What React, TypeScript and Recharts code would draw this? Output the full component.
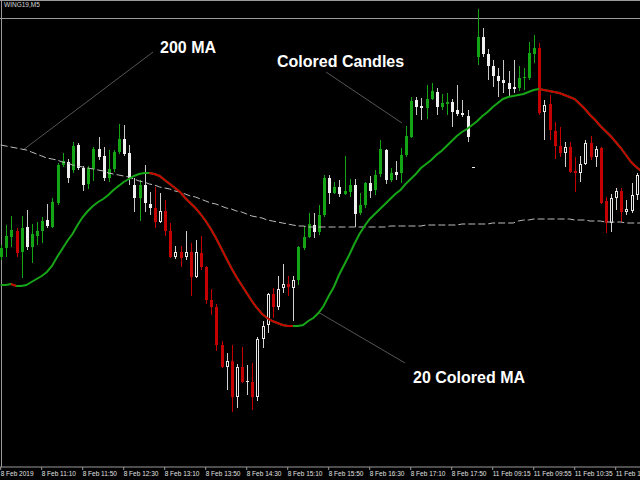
import React from "react";
import { ComposedChart, Bar, Line, XAxis, YAxis, ReferenceLine } from "recharts";

// WING19 M5 candles (no price scale shown, so levels are in chart points)
const OPEN = [
  210, 219, 230, 236, 215, 240, 220, 231, 236, 247,
  240, 264, 302, 305, 297, 322, 299, 283, 298, 318,
  311, 289, 298, 315, 328, 314, 282, 269, 282, 263,
  259, 245, 256, 236, 210, 215, 210, 215, 190, 214,
  200, 167, 160, 122, 100, 106, 70, 100, 86, 85,
  70, 128, 142, 173, 160, 179, 183, 179, 187, 219,
  230, 242, 235, 252, 289, 274, 280, 273, 275, 282,
  254, 262, 284, 277, 293, 317, 287, 295, 294, 312,
  330, 367, 361, 359, 368, 375, 360, 363, 365, 357,
  354, 351, 300, 410, 430, 413, 401, 391, 387, 384,
  380, 379, 389, 389, 413, 419, 355, 363, 336, 321,
  314, 320, 296, 294, 303, 324, 310, 319, 266, 244,
  269, 276, 255, 256, 272, 292,
];
const HIGH = [
  222, 242, 251, 239, 251, 257, 243, 245, 250, 263,
  269, 304, 314, 308, 325, 324, 301, 301, 320, 330,
  320, 317, 317, 343, 342, 322, 289, 287, 302, 275,
  280, 274, 267, 244, 221, 221, 236, 224, 227, 231,
  201, 178, 163, 126, 114, 122, 103, 120, 102, 104,
  130, 146, 174, 179, 191, 203, 191, 191, 221, 241,
  254, 254, 262, 292, 292, 285, 287, 311, 288, 288,
  274, 285, 291, 297, 327, 318, 299, 306, 319, 341,
  370, 370, 369, 382, 384, 379, 373, 374, 368, 382,
  367, 357, 300, 458, 439, 418, 407, 399, 407, 396,
  407, 401, 399, 425, 432, 424, 367, 372, 345, 340,
  325, 325, 310, 311, 327, 331, 321, 320, 270, 273,
  279, 279, 267, 284, 294, 317,
];
const LOW = [
  207, 210, 220, 210, 189, 217, 204, 222, 224, 239,
  239, 262, 300, 284, 294, 297, 276, 278, 286, 307,
  286, 285, 295, 313, 311, 282, 255, 246, 255, 252,
  239, 244, 231, 209, 208, 200, 207, 171, 189, 197,
  163, 152, 116, 99, 77, 55, 59, 84, 72, 57,
  66, 119, 134, 149, 157, 174, 171, 146, 182, 217,
  229, 229, 232, 250, 263, 273, 270, 272, 270, 240,
  252, 259, 269, 272, 290, 283, 285, 287, 284, 310,
  329, 352, 347, 348, 367, 352, 357, 352, 340, 351,
  350, 325, 299, 402, 410, 387, 380, 370, 374, 370,
  374, 376, 377, 387, 404, 352, 327, 327, 308, 310,
  300, 294, 275, 285, 302, 307, 300, 263, 234, 235,
  257, 245, 252, 254, 267, 291,
];
const CLOSE = [
  219, 231, 237, 214, 239, 220, 233, 236, 246, 241,
  265, 302, 306, 289, 321, 299, 282, 299, 318, 310,
  289, 298, 315, 328, 313, 289, 269, 282, 264, 259,
  245, 256, 236, 210, 215, 209, 215, 190, 215, 200,
  167, 160, 122, 100, 106, 70, 100, 85, 86, 70,
  128, 141, 173, 160, 178, 183, 180, 187, 220, 230,
  243, 235, 252, 289, 274, 280, 273, 276, 282, 253,
  262, 284, 276, 292, 318, 287, 294, 292, 312, 331,
  366, 360, 359, 368, 376, 360, 364, 365, 355, 353,
  352, 330, 299, 430, 413, 401, 391, 386, 384, 378,
  378, 389, 390, 414, 419, 354, 362, 337, 321, 314,
  320, 295, 294, 303, 324, 310, 318, 264, 244, 269,
  276, 255, 258, 272, 292, 314,
];
// g = bull in uptrend, w = bear in uptrend, r = bear in downtrend, h = bull in downtrend
const CANDLE_KIND =
  "gggrgwgggw" + "gggwgwwggw" + "wgggwwwgww" + "rhrrhrhrhr" +
  "rrrrhrhrhr" + "hhhrhhrhgg" + "gwggwgwggw" + "ggwggwgwgg" +
  "gwwggwggww" + "wwwgwwwwww" + "wggggrhrrr" + "hrrhhrhrrh" + "hrhhhh";

const MA20 = [
  182, 182, 183, 181, 181, 182, 185, 188, 191, 195,
  201, 210, 218, 226, 233, 242, 250, 256, 261, 265,
  268, 272, 277, 281, 285, 288, 291, 293, 294, 294,
  293, 291, 287, 283, 279, 275, 269, 264, 259, 253,
  246, 238, 229, 219, 209, 199, 190, 182, 174, 166,
  159, 153, 149, 146, 144, 142, 141, 141, 141, 142,
  146, 149, 154, 161, 171, 180, 192, 202, 212, 223,
  233, 241, 248, 253, 258, 263, 268, 273, 277, 283,
  288, 293, 299, 303, 307, 312, 316, 321, 326, 331,
  335, 338, 342, 346, 351, 355, 360, 364, 368, 370,
  371, 372, 373, 375, 377, 378, 377, 376, 375, 374,
  372, 370, 368, 363, 358, 352, 347, 341, 336, 331,
  325, 319, 312, 305, 300, 296,
];
// bar ranges where the 20 MA is drawn red
const MA20_DOWN = [[2, 3], [29, 57], [105, 125]];

const MA200 = [
  322, 321, 320, 319, 318, 317, 315, 313, 311, 309,
  308, 307, 305, 304, 302, 301, 300, 299, 298, 297,
  296, 294, 293, 292, 291, 290, 288, 286, 285, 283,
  282, 280, 279, 278, 276, 275, 273, 271, 270, 268,
  266, 264, 263, 261, 259, 258, 256, 255, 253, 251,
  250, 249, 247, 246, 245, 244, 243, 242, 241, 241,
  240, 240, 240, 240, 240, 240, 240, 240, 240, 240,
  240, 240, 240, 240, 240, 240, 241, 241, 241, 241,
  241, 241, 241, 242, 242, 242, 242, 242, 242, 242,
  243, 243, 243, 243, 243, 243, 244, 244, 244, 244,
  244, 246, 247, 247, 248, 248, 248, 248, 248, 248,
  248, 248, 247, 247, 247, 246, 246, 246, 245, 245,
  245, 245, 244, 244, 244, 244,
];

const TIME_TICKS = [0, 8, 16, 24, 32, 40, 48, 56, 64, 72, 80, 88, 96, 104, 112, 120];
const TIME_LABELS = [
  "8 Feb 2019", "8 Feb 11:10", "8 Feb 11:50", "8 Feb 12:30", "8 Feb 13:10",
  "8 Feb 13:50", "8 Feb 14:30", "8 Feb 15:10", "8 Feb 15:50", "8 Feb 16:30",
  "8 Feb 17:10", "8 Feb 17:50", "11 Feb 09:15", "11 Feb 09:55", "11 Feb 10:35",
  "11 Feb 11:15",
];

const data = OPEN.map((open, i) => ({
  i,
  open,
  high: HIGH[i],
  low: LOW[i],
  close: CLOSE[i],
  kind: CANDLE_KIND[i],
  ma20: MA20[i],
  ma20Down: MA20_DOWN.some(([a, b]) => i >= a && i <= b) ? MA20[i] : null,
  ma200: MA200[i],
}));

const CANDLE_STYLE: Record<string, { body: string; wick: string; hollow: boolean }> = {
  g: { body: "#14a514", wick: "#14a514", hollow: false },
  w: { body: "#f0f0f0", wick: "#c8c8c8", hollow: false },
  r: { body: "#c40000", wick: "#c40000", hollow: false },
  h: { body: "#e6e6e6", wick: "#d2d2d2", hollow: true },
};

const GRID = "#9a9a9a";
const FONT = "'Liberation Sans', Arial, sans-serif";

function Candle(props: any) {
  const { x, y, width, height, payload } = props;
  if (!payload) return null;
  const { open, close, high, low, kind } = payload;
  const ppu = high > low ? height / (high - low) : 0;
  const cx = Math.round(x + width / 2);
  const top = Math.round(y + (high - Math.max(open, close)) * ppu);
  const bot = Math.round(y + (high - Math.min(open, close)) * ppu);
  const bodyH = Math.max(1, bot - top);
  const s = CANDLE_STYLE[kind];
  return (
    <g>
      <rect x={cx} y={Math.round(y)} width={1} height={Math.max(1, Math.round(height))} fill={s.wick} />
      {s.hollow && bodyH > 2 ? (
        <rect x={cx - 0.5} y={top + 0.5} width={2} height={bodyH - 1} fill="#000" stroke={s.body} strokeWidth={1} />
      ) : (
        <rect x={cx - 1} y={top} width={3} height={bodyH} fill={s.body} />
      )}
    </g>
  );
}

function TimeTick(props: any) {
  const { x, y, payload } = props;
  const label = TIME_LABELS[TIME_TICKS.indexOf(payload.value)];
  return (
    <text x={x} y={y + 5} fill="#e0e0e0" fontSize={6.5} fontFamily={FONT}>
      {label}
    </text>
  );
}

const note: React.CSSProperties = {
  position: "absolute",
  color: "#ffffff",
  fontFamily: FONT,
  fontWeight: "bold",
  fontSize: 16,
  lineHeight: "16px",
  whiteSpace: "nowrap",
};

export default function App() {
  return (
    <div style={{ position: "fixed", left: 0, top: 0, width: 640, height: 480, background: "#000", overflow: "hidden" }}>
      <div style={{ position: "absolute", left: 0, top: 0, width: 640, height: 1, background: GRID }} />
      <div style={{ position: "absolute", left: 0, top: 18, width: 640, height: 1, background: GRID }} />
      <div style={{ position: "absolute", left: 1, top: 0, width: 1, height: 467, background: GRID }} />
      <div style={{ position: "absolute", left: 4, top: 1, color: "#d8d8d8", fontFamily: FONT, fontSize: 6.5, lineHeight: "8px" }}>
        WING19,M5
      </div>
      <div style={{ position: "absolute", left: 0, top: 0 }}>
        <ComposedChart width={640} height={480} data={data} margin={{ top: 0, right: 0, bottom: 0, left: 0 }}>
          <XAxis
            dataKey="i"
            type="number"
            domain={[-0.137, 124.74]}
            allowDataOverflow
            ticks={TIME_TICKS}
            interval={0}
            height={13}
            tickSize={3}
            tickMargin={1}
            axisLine={{ stroke: GRID }}
            tickLine={{ stroke: GRID }}
            tick={(p: any) => <TimeTick {...p} />}
          />
          <YAxis type="number" domain={[0, 467]} allowDataOverflow hide />
          <ReferenceLine segment={[{ x: 29.72, y: 415 }, { x: 4.35, y: 317 }]} stroke="#555" />
          <ReferenceLine segment={[{ x: 63.47, y: 395 }, { x: 78.3, y: 344 }]} stroke="#555" />
          <ReferenceLine segment={[{ x: 61.9, y: 155 }, { x: 78.9, y: 104 }]} stroke="#555" />
          <Bar
            dataKey={(d: any) => [d.low, d.high]}
            barSize={4}
            shape={(p: any) => <Candle {...p} />}
            activeBar={false}
            isAnimationActive={false}
          />
          <Line dataKey="ma200" type="linear" stroke="#bcbcbc" strokeWidth={1} strokeDasharray="7 3" dot={false} activeDot={false} isAnimationActive={false} />
          <Line dataKey="ma20" type="linear" stroke="#16a516" strokeWidth={2} dot={false} activeDot={false} isAnimationActive={false} />
          <Line dataKey="ma20Down" type="linear" stroke="#c80000" strokeWidth={2} dot={false} activeDot={false} connectNulls={false} isAnimationActive={false} />
        </ComposedChart>
      </div>
      <div style={{ ...note, left: 160, top: 40 }}>200 MA</div>
      <div style={{ ...note, left: 277, top: 54 }}>Colored Candles</div>
      <div style={{ ...note, left: 413, top: 370 }}>20 Colored MA</div>
    </div>
  );
}
